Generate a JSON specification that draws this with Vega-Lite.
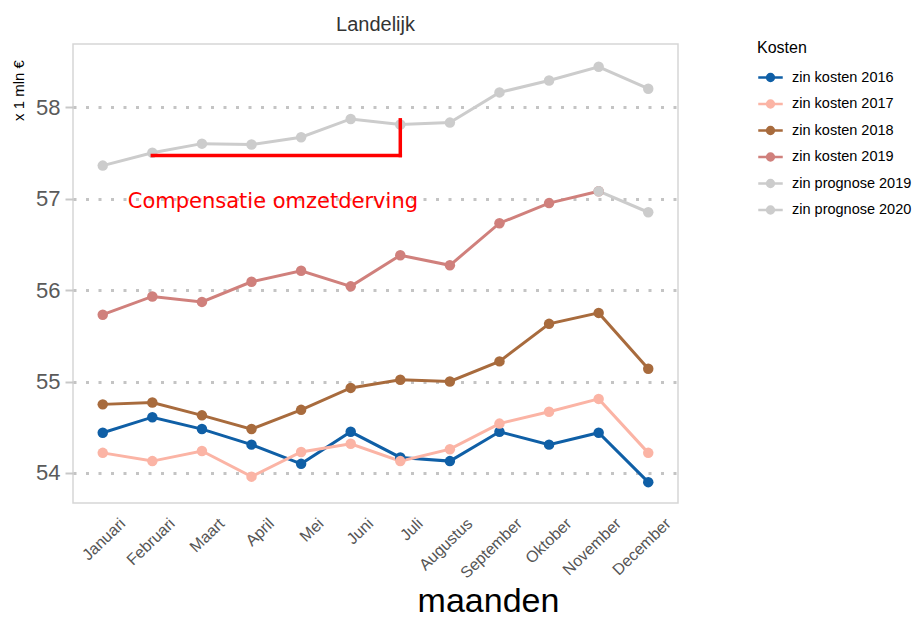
{
  "$schema": "https://vega.github.io/schema/vega-lite/v6.json",
  "autosize": {"type": "none"},
  "width": 605,
  "height": 459,
  "padding": {"left": 73, "top": 44, "right": 237, "bottom": 117},
  "background": "white",
  "config": {
    "font": "Liberation Sans",
    "view": {"stroke": "#d6d6d6", "strokeWidth": 1.5}
  },
  "title": {"text": "Landelijk", "fontSize": 20, "fontWeight": "normal", "color": "#333333", "anchor": "middle", "offset": 5, "font": "Liberation Sans"},
  "datasets": {
    "series": [
      {"maand": "Januari", "reeks": "zin kosten 2016", "waarde": 54.44},
      {"maand": "Februari", "reeks": "zin kosten 2016", "waarde": 54.61},
      {"maand": "Maart", "reeks": "zin kosten 2016", "waarde": 54.48},
      {"maand": "April", "reeks": "zin kosten 2016", "waarde": 54.31},
      {"maand": "Mei", "reeks": "zin kosten 2016", "waarde": 54.10},
      {"maand": "Juni", "reeks": "zin kosten 2016", "waarde": 54.45},
      {"maand": "Juli", "reeks": "zin kosten 2016", "waarde": 54.17},
      {"maand": "Augustus", "reeks": "zin kosten 2016", "waarde": 54.13},
      {"maand": "September", "reeks": "zin kosten 2016", "waarde": 54.45},
      {"maand": "Oktober", "reeks": "zin kosten 2016", "waarde": 54.31},
      {"maand": "November", "reeks": "zin kosten 2016", "waarde": 54.44},
      {"maand": "December", "reeks": "zin kosten 2016", "waarde": 53.90},
      {"maand": "Januari", "reeks": "zin kosten 2017", "waarde": 54.22},
      {"maand": "Februari", "reeks": "zin kosten 2017", "waarde": 54.13},
      {"maand": "Maart", "reeks": "zin kosten 2017", "waarde": 54.24},
      {"maand": "April", "reeks": "zin kosten 2017", "waarde": 53.96},
      {"maand": "Mei", "reeks": "zin kosten 2017", "waarde": 54.23},
      {"maand": "Juni", "reeks": "zin kosten 2017", "waarde": 54.32},
      {"maand": "Juli", "reeks": "zin kosten 2017", "waarde": 54.13},
      {"maand": "Augustus", "reeks": "zin kosten 2017", "waarde": 54.26},
      {"maand": "September", "reeks": "zin kosten 2017", "waarde": 54.54},
      {"maand": "Oktober", "reeks": "zin kosten 2017", "waarde": 54.67},
      {"maand": "November", "reeks": "zin kosten 2017", "waarde": 54.81},
      {"maand": "December", "reeks": "zin kosten 2017", "waarde": 54.22},
      {"maand": "Januari", "reeks": "zin kosten 2018", "waarde": 54.75},
      {"maand": "Februari", "reeks": "zin kosten 2018", "waarde": 54.77},
      {"maand": "Maart", "reeks": "zin kosten 2018", "waarde": 54.63},
      {"maand": "April", "reeks": "zin kosten 2018", "waarde": 54.48},
      {"maand": "Mei", "reeks": "zin kosten 2018", "waarde": 54.69},
      {"maand": "Juni", "reeks": "zin kosten 2018", "waarde": 54.93},
      {"maand": "Juli", "reeks": "zin kosten 2018", "waarde": 55.02},
      {"maand": "Augustus", "reeks": "zin kosten 2018", "waarde": 55.00},
      {"maand": "September", "reeks": "zin kosten 2018", "waarde": 55.22},
      {"maand": "Oktober", "reeks": "zin kosten 2018", "waarde": 55.63},
      {"maand": "November", "reeks": "zin kosten 2018", "waarde": 55.75},
      {"maand": "December", "reeks": "zin kosten 2018", "waarde": 55.14},
      {"maand": "Januari", "reeks": "zin kosten 2019", "waarde": 55.73},
      {"maand": "Februari", "reeks": "zin kosten 2019", "waarde": 55.93},
      {"maand": "Maart", "reeks": "zin kosten 2019", "waarde": 55.87},
      {"maand": "April", "reeks": "zin kosten 2019", "waarde": 56.09},
      {"maand": "Mei", "reeks": "zin kosten 2019", "waarde": 56.21},
      {"maand": "Juni", "reeks": "zin kosten 2019", "waarde": 56.04},
      {"maand": "Juli", "reeks": "zin kosten 2019", "waarde": 56.38},
      {"maand": "Augustus", "reeks": "zin kosten 2019", "waarde": 56.27},
      {"maand": "September", "reeks": "zin kosten 2019", "waarde": 56.73},
      {"maand": "Oktober", "reeks": "zin kosten 2019", "waarde": 56.95},
      {"maand": "November", "reeks": "zin kosten 2019", "waarde": 57.08},
      {"maand": "November", "reeks": "zin prognose 2019", "waarde": 57.08},
      {"maand": "December", "reeks": "zin prognose 2019", "waarde": 56.85},
      {"maand": "Januari", "reeks": "zin prognose 2020", "waarde": 57.36},
      {"maand": "Februari", "reeks": "zin prognose 2020", "waarde": 57.50},
      {"maand": "Maart", "reeks": "zin prognose 2020", "waarde": 57.60},
      {"maand": "April", "reeks": "zin prognose 2020", "waarde": 57.59},
      {"maand": "Mei", "reeks": "zin prognose 2020", "waarde": 57.67},
      {"maand": "Juni", "reeks": "zin prognose 2020", "waarde": 57.87},
      {"maand": "Juli", "reeks": "zin prognose 2020", "waarde": 57.81},
      {"maand": "Augustus", "reeks": "zin prognose 2020", "waarde": 57.83},
      {"maand": "September", "reeks": "zin prognose 2020", "waarde": 58.16},
      {"maand": "Oktober", "reeks": "zin prognose 2020", "waarde": 58.29},
      {"maand": "November", "reeks": "zin prognose 2020", "waarde": 58.44},
      {"maand": "December", "reeks": "zin prognose 2020", "waarde": 58.20}
    ],
    "bracket": [
      {"van": "Februari", "tot": "Juli", "y1": 57.47, "y2": 57.47},
      {"van": "Juli", "tot": "Juli", "y1": 57.47, "y2": 57.86}
    ],
    "label": [
      {"maand": "Januari", "waarde": 56.96, "tekst": "Compensatie omzetderving"}
    ]
  },
  "encoding": {
    "x": {
      "field": "maand", "type": "nominal",
      "scale": {"type": "point", "padding": 0.6, "domain": ["Januari","Februari","Maart","April","Mei","Juni","Juli","Augustus","September","Oktober","November","December"]},
      "axis": {
        "title": "maanden", "titleFontSize": 34, "titleFontWeight": "normal", "titleColor": "#000000",
        "titleX": 415, "titleY": 108, "titleBaseline": "alphabetic",
        "labelAngle": -44, "labelAlign": "right", "labelBaseline": "top",
        "labelFontSize": 16, "labelColor": "#555555", "labelPadding": 12, "labelOffset": 14,
        "domain": false, "tickColor": "#c8c8c8", "tickSize": 0, "grid": false
      }
    },
    "y": {
      "field": "waarde", "type": "quantitative",
      "scale": {"domain": [53.672, 58.689], "nice": false, "zero": false},
      "axis": {
        "title": "x 1 mln €", "titleFontSize": 15, "titleFontWeight": "normal", "titleColor": "#000000",
        "titleX": -55, "titleY": 46, "titleAlign": "center", "titleBaseline": "middle", "titleAngle": -90,
        "values": [54, 55, 56, 57, 58], "format": "d",
        "labelFontSize": 22, "labelColor": "#5a5a5a", "labelPadding": 5,
        "domain": false, "tickColor": "#c8c8c8", "tickSize": 8, "tickWidth": 2,
        "grid": true, "gridColor": "#c4c4c4", "gridWidth": 3, "gridDash": [3, 9.5]
      }
    }
  },
  "layer": [
    {
      "data": {"name": "series"},
      "mark": {"type": "line", "strokeWidth": 3, "point": {"filled": true, "size": 110}},
      "encoding": {
        "color": {
          "field": "reeks", "type": "nominal",
          "scale": {
            "domain": ["zin kosten 2016","zin kosten 2017","zin kosten 2018","zin kosten 2019","zin prognose 2019","zin prognose 2020"],
            "range": ["#0f5fa6","#fbb4a5","#a86b3d","#d0807c","#cccccc","#cccccc"]
          },
          "legend": {
            "title": "Kosten", "orient": "none", "legendX": 684, "legendY": -4,
            "titleFontSize": 16, "titleFontWeight": "normal", "titleColor": "#000000", "titlePadding": 8,
            "labelFontSize": 14.5, "labelColor": "#000000", "labelOffset": 8,
            "symbolType": "M-1,0L1,0M-0.28,0A0.28,0.28 0 1,0 0.28,0A0.28,0.28 0 1,0 -0.28,0Z",
            "symbolSize": 600, "symbolStrokeWidth": 2.5, "rowPadding": 4.5,
            "symbolOpacity": 1
          }
        }
      }
    },
    {
      "data": {"name": "bracket"},
      "mark": {"type": "rule", "color": "#ff0000", "strokeWidth": 3.5, "strokeCap": "square"},
      "encoding": {
        "x": {"field": "van", "type": "nominal", "scale": {"type": "point", "padding": 0.6, "domain": ["Januari","Februari","Maart","April","Mei","Juni","Juli","Augustus","September","Oktober","November","December"]}},
        "x2": {"field": "tot"},
        "y": {"field": "y1", "type": "quantitative"},
        "y2": {"field": "y2"}
      }
    },
    {
      "data": {"name": "label"},
      "mark": {"type": "text", "color": "#ff0000", "font": "DejaVu Sans", "fontSize": 21, "align": "left", "baseline": "middle", "dx": 25},
      "encoding": {
        "x": {"field": "maand", "type": "nominal", "scale": {"type": "point", "padding": 0.6, "domain": ["Januari","Februari","Maart","April","Mei","Juni","Juli","Augustus","September","Oktober","November","December"]}},
        "y": {"field": "waarde", "type": "quantitative"},
        "text": {"field": "tekst"}
      }
    }
  ]
}
